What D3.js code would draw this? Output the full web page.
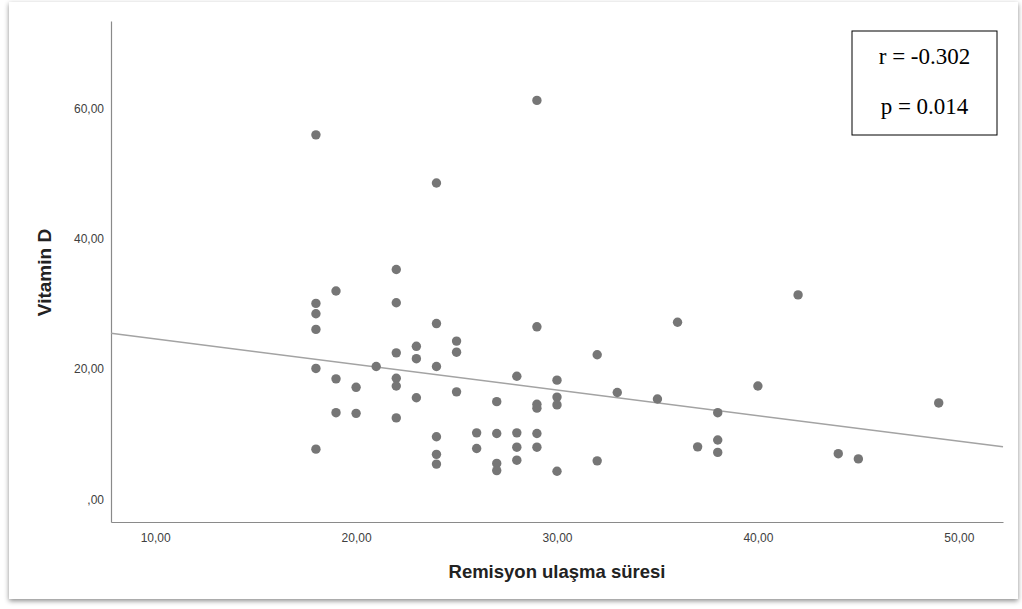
<!DOCTYPE html>
<html>
<head>
<meta charset="utf-8">
<script src="https://cdn.jsdelivr.net/npm/d3@7"></script>
<style>
  html, body { margin: 0; padding: 0; background: #ffffff; }
  svg { display: block; }
</style>
</head>
<body>
<svg id="chart" width="1022" height="609"></svg>
<script>
// Remission time (x) against vitamin D level (y), one entry per patient
const remissionTime = [
  18, 18, 18, 18, 18, 18,
  19, 19, 19,
  20, 20,
  21,
  22, 22, 22, 22, 22, 22,
  23, 23, 23,
  24, 24, 24, 24, 24, 24,
  25, 25, 25,
  26, 26,
  27, 27, 27, 27,
  28, 28, 28, 28,
  29, 29, 29, 29, 29, 29,
  30, 30, 30, 30,
  32, 32,
  33, 35, 36, 37,
  38, 38, 38,
  40, 42, 44, 45, 49
];
const vitaminD = [
  56.0, 30.1, 28.5, 26.1, 20.1, 7.7,
  32.0, 18.5, 13.3,
  17.2, 13.2,
  20.4,
  35.3, 30.2, 22.5, 18.6, 17.4, 12.5,
  23.5, 21.6, 15.6,
  48.6, 27.0, 20.4, 9.6, 6.9, 5.4,
  24.3, 22.6, 16.5,
  10.2, 7.8,
  15.0, 10.1, 5.5, 4.4,
  18.9, 10.2, 8.0, 6.0,
  61.3, 26.5, 14.6, 14.0, 10.1, 8.0,
  18.3, 15.7, 14.5, 4.3,
  22.2, 5.9,
  16.4, 15.4, 27.2, 8.05,
  13.3, 9.1, 7.2,
  17.4, 31.4, 7.0, 6.2, 14.8
];

// Linear fit line: vitaminD = fitIntercept + fitSlope * remissionTime
const fitIntercept = 28.57;
const fitSlope = -0.393;

const xTicks = [10, 20, 30, 40, 50];
const yTicks = [0, 20, 40, 60];
const statLines = ["r = -0.302", "p = 0.014"];
const xTitle = "Remisyon ulaşma süresi";
const yTitle = "Vitamin D";

// Decimal comma format used on both axes ("20,00", and ",00" for zero)
const fmt = d => d === 0 ? ",00" : d.toFixed(2).replace(".", ",");

const svg = d3.select("#chart");

// Panel with soft drop shadow
const defs = svg.append("defs");
const f = defs.append("filter").attr("id", "shadow")
  .attr("x", "-5%").attr("y", "-5%").attr("width", "110%").attr("height", "110%");
f.append("feDropShadow").attr("dx", 0).attr("dy", 2).attr("stdDeviation", 2.5)
  .attr("flood-color", "#000").attr("flood-opacity", 0.45);

svg.append("rect")
  .attr("x", 9).attr("y", 2).attr("width", 1009).attr("height", 597)
  .attr("fill", "#ffffff").attr("filter", "url(#shadow)");

const x = d3.scaleLinear().domain([7.8, 52.2]).range([111, 1003]);
const y = d3.scaleLinear().domain([-3.5, 73.5]).range([522, 21]);

// Axes (no tick marks, labels only)
const xAxis = svg.append("g")
  .attr("transform", `translate(0,${y.range()[0]})`)
  .call(d3.axisBottom(x).tickValues(xTicks).tickFormat(fmt).tickSize(0).tickPadding(11));
const yAxis = svg.append("g")
  .attr("transform", `translate(${x.range()[0]},0)`)
  .call(d3.axisLeft(y).tickValues(yTicks).tickFormat(fmt).tickSize(0).tickPadding(7));

[xAxis, yAxis].forEach(g => {
  g.select(".domain").attr("stroke", "#8a8a8a").attr("stroke-width", 1.2);
  g.selectAll("text")
    .attr("font-family", "Liberation Sans, Arial, sans-serif")
    .attr("font-size", 12).attr("fill", "#404040");
});

// Fit line across the full x range
const xd = x.domain();
svg.append("line")
  .attr("x1", x(xd[0])).attr("y1", y(fitIntercept + fitSlope * xd[0]))
  .attr("x2", x(xd[1])).attr("y2", y(fitIntercept + fitSlope * xd[1]))
  .attr("stroke", "#a3a3a3").attr("stroke-width", 1.5);

// Scatter points
svg.append("g").selectAll("circle")
  .data(remissionTime.map((d, i) => [d, vitaminD[i]]))
  .join("circle")
  .attr("cx", d => x(d[0])).attr("cy", d => y(d[1]))
  .attr("r", 4.7).attr("fill", "#767676");

// Axis titles
svg.append("text")
  .attr("x", (x.range()[0] + x.range()[1]) / 2).attr("y", 578)
  .attr("text-anchor", "middle")
  .attr("font-family", "Liberation Sans, Arial, sans-serif")
  .attr("font-weight", "bold")
  .attr("font-size", 18.5).attr("fill", "#222")
  .text(xTitle);
svg.append("text")
  .attr("transform", `translate(51,272.5) rotate(-90)`)
  .attr("text-anchor", "middle")
  .attr("font-family", "Liberation Sans, Arial, sans-serif")
  .attr("font-weight", "bold")
  .attr("font-size", 19).attr("fill", "#222")
  .text(yTitle);

// Correlation box
const box = svg.append("g");
box.append("rect")
  .attr("x", 852).attr("y", 31).attr("width", 145).attr("height", 104)
  .attr("fill", "#ffffff").attr("stroke", "#000").attr("stroke-width", 1);
box.selectAll("text").data(statLines).join("text")
  .attr("x", 924.5).attr("y", (d, i) => 64 + i * 50)
  .attr("text-anchor", "middle")
  .attr("font-family", "Liberation Serif, Times New Roman, serif")
  .attr("font-size", 23).attr("fill", "#000")
  .text(d => d);
</script>
</body>
</html>
